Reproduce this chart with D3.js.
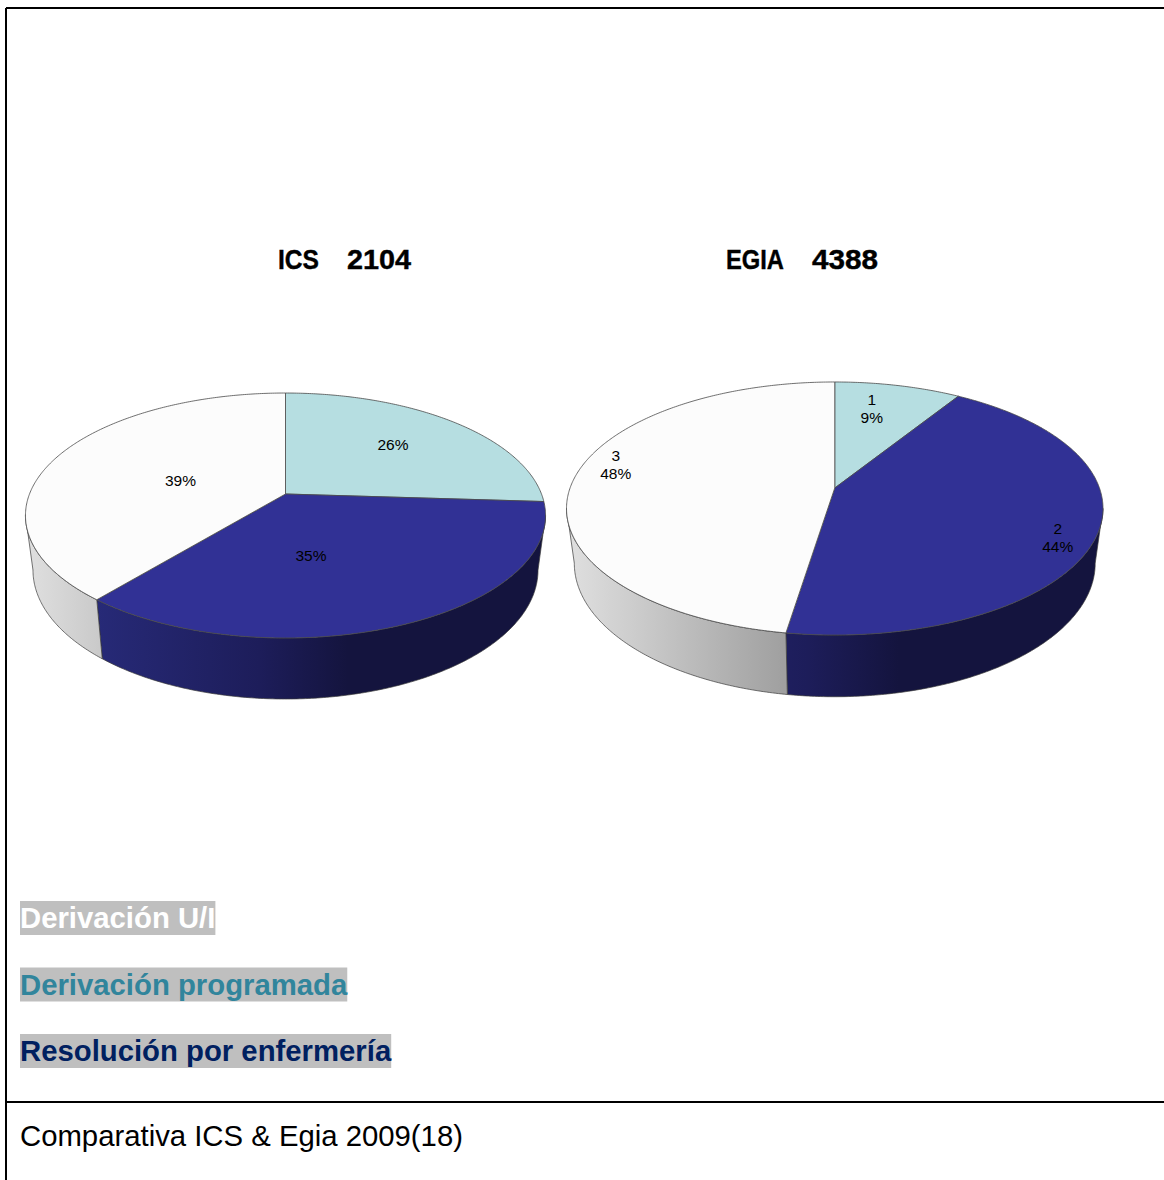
<!DOCTYPE html>
<html lang="es">
<head>
<meta charset="utf-8">
<title>Comparativa ICS & Egia 2009</title>
<script src="https://cdn.jsdelivr.net/npm/d3@7/dist/d3.min.js"></script>
<style>
  html, body { margin: 0; padding: 0; background: #fff; }
  svg { display: block; }
  text { font-family: "Liberation Sans", Arial, sans-serif; }
</style>
</head>
<body>
<svg id="chart" width="1164" height="1180"></svg>
<script>
// Share of each care outcome per provider, in percent
const categories = ["Derivación programada", "Resolución por enfermería", "Derivación U/I"];
const icsValues = [26, 35, 39];
const egiaValues = [9, 44, 48];
const pieNames = ["ICS", "EGIA"];
const pieTotals = ["2104", "4388"];
const legendLabels = ["Derivación U/I", "Derivación programada", "Resolución por enfermería"];
const footerText = "Comparativa ICS & Egia 2009(18)";

// Tilted-disc geometry: p is the perspective strength, top and bottom the two disc faces
const layouts = [
  { values: icsValues, name: pieNames[0], total: pieTotals[0],
    nameBox: [278, 41], totalBox: [347, 64], cx: 285.5, p: 0.1755,
    top: { y: 494, rx: 256, ry: 118.7 }, bottom: { y: 547.4, rx: 248.6, ry: 125 },
    span: [25, 546],
    labels: [
      { dx: 107.5, dy: -49, lines: ["26%"] },
      { dx: 25.5, dy: 62, lines: ["35%"] },
      { dx: -105, dy: -13, lines: ["39%"] }
    ] },
  { values: egiaValues, name: pieNames[1], total: pieTotals[1],
    nameBox: [726, 58], totalBox: [812, 66], cx: 834.75, p: 0.162,
    top: { y: 488, rx: 264.7, ry: 123.2 }, bottom: { y: 541.6, rx: 257, ry: 130 },
    span: [566, 1103],
    labels: [
      { dx: 37, dy: -79, lines: ["1", "9%"] },
      { dx: 223, dy: 50, lines: ["2", "44%"] },
      { dx: -219, dy: -23, lines: ["3", "48%"] }
    ] }
];

const faceColor = d3.scaleOrdinal().domain(categories).range(["#B6DEE1", "#313195", "#FCFCFC"]);
// Shading of the rim, left to right across each disc
const rimStops = {
  "Derivación programada": [[0, "#93b3b6"], [1, "#5c7274"]],
  "Resolución por enfermería": [[0, "#2a2d80"], [0.13, "#272A78"], [0.45, "#1d1d5a"], [0.62, "#14143E"], [1, "#14143E"]],
  "Derivación U/I": [[0, "#E0E0E0"], [0.13, "#CCCCCC"], [0.405, "#A0A0A0"], [1, "#808080"]]
};

const svg = d3.select("#chart");
const defs = svg.append("defs");

// Frame rules
const frame = svg.append("g").attr("stroke", "#000").attr("stroke-width", 2);
frame.append("line").attr("x1", 6).attr("x2", 1164).attr("y1", 8).attr("y2", 8);
frame.append("line").attr("x1", 6).attr("x2", 6).attr("y1", 8).attr("y2", 1180);
frame.append("line").attr("x1", 6).attr("x2", 1164).attr("y1", 1102).attr("y2", 1102);

const line = d3.line();

// Bold title fragment squeezed into the given horizontal box
const titlePart = (text, box) => svg.append("text")
  .attr("x", box[0]).attr("y", 269)
  .attr("textLength", box[1]).attr("lengthAdjust", "spacingAndGlyphs")
  .attr("font-size", 27.5).attr("font-weight", 700)
  .attr("stroke", "#000").attr("stroke-width", 0.4)
  .text(text);

layouts.forEach((pie, pieIndex) => {
  // Project a disc angle (0 = far edge, clockwise) onto one of the faces
  const project = (face, angle) => {
    const u = Math.sin(angle), v = -Math.cos(angle);
    const s = 1 / (1 - pie.p * v);
    return [pie.cx + face.rx * u * s, face.y + face.ry * v * s];
  };
  const arcPoints = (face, a0, a1) => {
    const n = Math.max(2, Math.ceil((a1 - a0) / 0.01));
    return d3.range(n + 1).map(i => project(face, a0 + (a1 - a0) * i / n));
  };

  const slices = d3.pie().sort(null).value(d => d)(pie.values)
    .map((d, i) => ({ ...d, category: categories[i] }));

  const g = svg.append("g");

  // Rim is only visible between the two silhouette tangents of the disc
  const tangent = Math.acos(pie.p);
  const visStart = Math.PI - tangent, visEnd = Math.PI + tangent;

  slices.forEach((d, i) => {
    const id = `rim-${pieIndex}-${i}`;
    defs.append("linearGradient").attr("id", id)
      .attr("gradientUnits", "userSpaceOnUse")
      .attr("x1", pie.span[0]).attr("x2", pie.span[1]).attr("y1", 0).attr("y2", 0)
      .selectAll("stop").data(rimStops[d.category]).join("stop")
      .attr("offset", s => s[0]).attr("stop-color", s => s[1]);

    const a0 = Math.max(d.startAngle, visStart), a1 = Math.min(d.endAngle, visEnd);
    if (a1 <= a0) return;
    const pts = arcPoints(pie.top, a0, a1).concat(arcPoints(pie.bottom, a0, a1).reverse());
    g.append("path").attr("d", line(pts) + "Z")
      .attr("fill", `url(#${id})`)
      .attr("stroke", "#3a3a3a").attr("stroke-width", 0.7).attr("stroke-linejoin", "round");
  });

  // Top face slices, drawn over the rim
  slices.forEach(d => {
    const apex = [pie.cx, pie.top.y];
    const pts = [apex].concat(arcPoints(pie.top, d.startAngle, d.endAngle));
    g.append("path").attr("d", line(pts) + "Z")
      .attr("fill", faceColor(d.category))
      .attr("stroke", "#4a4a4a").attr("stroke-width", 0.8).attr("stroke-linejoin", "round");
  });

  // Value labels
  pie.labels.forEach(l => {
    const t = g.append("text")
      .attr("x", pie.cx + l.dx).attr("y", pie.top.y + l.dy)
      .attr("text-anchor", "middle").attr("font-size", 15.5).attr("fill", "#000");
    l.lines.forEach((s, k) => t.append("tspan")
      .attr("x", pie.cx + l.dx)
      .attr("dy", k === 0 ? (l.lines.length > 1 ? "-0.25em" : "0.35em") : 18)
      .text(s));
  });

  titlePart(pie.name, pie.nameBox);
  titlePart(pie.total, pie.totalBox);
});

// Legend: bold coloured words on a grey highlight
const legendColor = d3.scaleOrdinal().domain(legendLabels).range(["#FFFFFF", "#31859C", "#002060"]);
const legendY = d3.scalePoint().domain(legendLabels).range([928, 1061]);
const legend = svg.append("g");
legendLabels.forEach(label => {
  const row = legend.append("g");
  const bg = row.append("rect").attr("fill", "#BFBFBF");
  const t = row.append("text")
    .attr("x", 20).attr("y", legendY(label))
    .attr("font-size", 29.3).attr("font-weight", 700)
    .attr("fill", legendColor(label)).text(label);
  const w = t.node().getComputedTextLength();
  bg.attr("x", 20).attr("y", legendY(label) - 27).attr("width", w).attr("height", 34);
});

svg.append("text").attr("x", 20).attr("y", 1146)
  .attr("font-size", 29.3).attr("fill", "#000").text(footerText);
</script>
</body>
</html>
